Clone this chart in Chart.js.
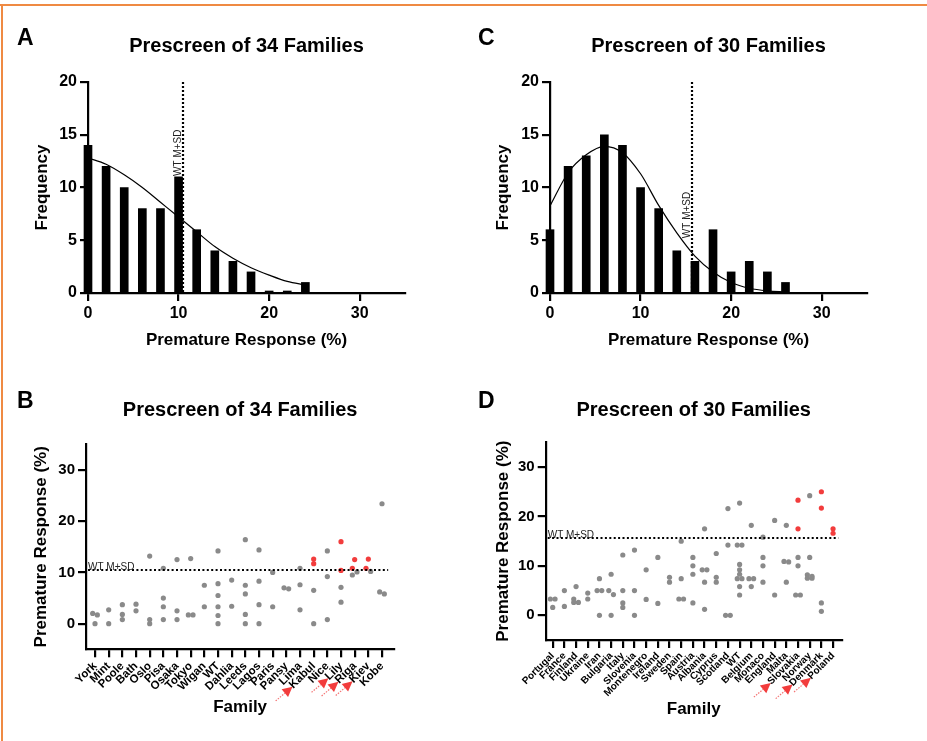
<!DOCTYPE html>
<html><head><meta charset="utf-8">
<script src="https://cdn.jsdelivr.net/npm/chart.js@4.4.1/dist/chart.umd.min.js"></script>
<style>
html,body{margin:0;padding:0;background:#fff;}
#wrap{position:relative;width:927px;height:741px;overflow:hidden;background:#fff;}
canvas{position:absolute;}
.frameTop{position:absolute;left:0;top:4px;width:927px;height:2px;background:#ef8a43;}
.frameLeft{position:absolute;left:1px;top:4px;width:2px;height:737px;background:#ef8a43;}
</style></head>
<body><div id="wrap">
<canvas id="cA" width="460" height="370" style="left:0;top:0"></canvas>
<canvas id="cC" width="467" height="370" style="left:460px;top:0"></canvas>
<canvas id="cB" width="460" height="371" style="left:0;top:370px"></canvas>
<canvas id="cD" width="467" height="371" style="left:460px;top:370px"></canvas>
<div class="frameTop"></div><div class="frameLeft"></div>
</div>
<script>
// ---------- DATA ----------
// Panel A: histogram, 34 families
const binsA = [0, 2, 4, 6, 8, 10, 12, 14, 16, 18, 20, 22, 24];
const countsA = [14, 12, 10, 8, 8, 11, 6, 4, 3, 2, 0, 0, 1];
const fitXA = [0, 2, 4, 6, 8, 10, 12, 14, 16, 18, 20, 22, 24];
const fitYA = [12.8, 12.2, 11.2, 10.0, 8.6, 7.2, 5.8, 4.4, 3.3, 2.4, 1.7, 1.1, 0.75];
const wtA = 10.5;

// Panel C: histogram, 30 families
const binsC = [0, 2, 4, 6, 8, 10, 12, 14, 16, 18, 20, 22, 24, 26];
const countsC = [6, 12, 13, 15, 14, 10, 8, 4, 3, 6, 2, 3, 2, 1];
const fitXC = [0, 2, 4, 6, 8, 10, 12, 14, 16, 18, 20, 22, 24, 26];
const fitYC = [8.25, 11.4, 13.1, 13.9, 13.3, 11.3, 8.3, 5.7, 3.5, 2.0, 1.0, 0.45, 0.2, 0.1];
const wtC = 15.7;

const histXTicks = [0, 10, 20, 30];
const histYTicks = [0, 5, 10, 15, 20];

// Panel B: 34 families scatter
const familiesB = ['York','Mint','Poole','Bath','Oslo','Pisa','Osaka','Tokyo','Wigan','WT','Dahlia','Leeds','Lagos','Paris','Pansy','Lima','Kabul','Nice','Lily','Riga','Kiev','Kobe'];
const greyB = [
  [2.0,1.7,0],[2.7,0],[3.7,1.8,0.8],[3.8,2.5],[13.2,0.8,0],[10.8,5.0,3.3,0.8],[12.5,2.5,0.8],[12.7,1.7,1.7],
  [7.5,3.3],[14.2,7.8,5.5,3.3,1.6,0],[8.5,3.4],[16.4,7.5,5.8,1.8,0],[14.4,8.3,3.7,0],[10.0,3.3],[7.0,6.8],
  [10.8,7.6,2.7],[6.5,0],[14.2,9.2,0.8],[7.1,4.2],[10.1,9.5],[10.2],[23.4,6.2,5.8]
];
const redB = [[],[],[],[],[],[],[],[],[],[],[],[],[],[],[],[],[12.6,11.7],[],[16.0,10.4],[12.5,10.8],[12.6,10.8],[]];
const wtB = 10.5;
const markedB = ['Kabul','Lily','Riga','Kiev'];

// Panel D: 30 families scatter
const familiesD = ['Portugal','France','Finland','Ukraine','Iran','Bulgaria','Italy','Slovenia','Montenegro','Ireland','Sweden','Spain','Austria','Albania','Cyprus','Scotland','WT','Belgium','Monaco','England','Malta','Slovakia','Norway','Denmark','Poland'];
const greyD = [
  [3.3,3.3,1.6],[5.0,1.8],[5.8,3.3,2.6,2.6],[4.5,3.3],[7.4,5.0,5.0,0],[8.3,5.0,4.2,0],[12.2,5.0,2.5,1.6],
  [13.2,5.0,0],[9.2,3.2],[11.7,2.4],[7.7,6.7],[15.0,7.4,3.3,3.3],[11.7,10.0,8.3,2.5],[17.5,9.2,9.2,6.7,1.2],
  [12.5,7.7,6.7],[21.6,14.2,0,0],[22.7,14.2,14.2,10.3,9.2,8.3,7.4,7.4,5.8,4.1],[18.2,7.4,7.4,5.8],
  [15.8,11.7,10.0,6.7],[19.2,4.1],[18.2,10.9,10.8,6.7],[11.7,10.0,4.1,4.1],[24.2,11.7,8.2,7.9,7.5,7.5],[2.5,0.8],[]
];
const redD = [[],[],[],[],[],[],[],[],[],[],[],[],[],[],[],[],[],[],[],[],[],[23.3,17.5],[],[25.0,21.7],[17.5,16.6]];
const wtD = 15.7;
const markedD = ['Slovakia','Denmark','Poland'];

const scatterYTicks = [0, 10, 20, 30];

// ---------- STYLE / HELPERS ----------
const FONT = "'Liberation Sans', Arial, Helvetica, sans-serif";
Chart.defaults.font.family = FONT;
Chart.defaults.color = '#000';
const GREY = '#8a8a8a', RED = '#f23c3c';

function letterPlugin(letter, x, y) {
  return { id: 'letter', afterDraw(chart) {
    const c = chart.ctx; c.save();
    c.font = 'bold 23px ' + FONT; c.fillStyle = '#000'; c.textAlign = 'left'; c.textBaseline = 'alphabetic';
    c.fillText(letter, x, y); c.restore();
  }};
}

function vLinePlugin(value, labelAt) {
  return { id: 'vline', afterDatasetsDraw(chart) {
    const {ctx, chartArea, scales: {x, y}} = chart;
    const px = Math.round(x.getPixelForValue(value));
    ctx.save();
    ctx.strokeStyle = '#000'; ctx.lineWidth = 2.2; ctx.setLineDash([2, 2]);
    ctx.beginPath(); ctx.moveTo(px, chartArea.top); ctx.lineTo(px, chartArea.bottom); ctx.stroke();
    ctx.setLineDash([]);
    ctx.font = '10px ' + FONT; ctx.fillStyle = '#222'; ctx.textAlign = 'left'; ctx.textBaseline = 'alphabetic';
    ctx.translate(px - 2, y.getPixelForValue(labelAt)); ctx.rotate(-Math.PI / 2);
    ctx.fillText('WT M+SD', 0, 0);
    ctx.restore();
  }};
}

function hLinePlugin(value, lastIndex) {
  return { id: 'hline', afterDatasetsDraw(chart) {
    const {ctx, chartArea, scales: {x, y}} = chart;
    const py = Math.round(y.getPixelForValue(value));
    ctx.save();
    ctx.strokeStyle = '#000'; ctx.lineWidth = 2.2; ctx.setLineDash([2, 2.4]);
    ctx.beginPath(); ctx.moveTo(chartArea.left + 2, py); ctx.lineTo(x.getPixelForValue(lastIndex + 0.45), py); ctx.stroke();
    ctx.setLineDash([]);
    ctx.font = '10px ' + FONT; ctx.fillStyle = '#222'; ctx.textAlign = 'left'; ctx.textBaseline = 'alphabetic';
    ctx.fillText('WT M+SD', chartArea.left + 2, py);
    ctx.restore();
  }};
}

function arrowPlugin(families, marked, fontSize) {
  return { id: 'arrows', afterDraw(chart) {
    const {ctx} = chart; const xs = chart.scales.x;
    const lh = fontSize * 1.2, rot = -Math.PI / 4, c = Math.cos(rot), s = Math.sin(rot);
    ctx.save(); ctx.font = 'bold ' + fontSize + 'px ' + FONT;
    marked.forEach(name => {
      const i = families.indexOf(name);
      const w = ctx.measureText(name).width;
      const xa = xs.getPixelForValue(i) + lh / 2 * s;
      const ya = xs.top + 8 + 2;
      const u = -w + 1, v = lh / 2 + 1;
      const tipX = xa + u * c - v * s, tipY = ya + u * s + v * c;
      const ang = -40 * Math.PI / 180;
      const dx = Math.cos(ang), dy = Math.sin(ang);
      const L = 22, head = 10, hw = 5;
      const tailX = tipX - L * dx, tailY = tipY - L * dy;
      const bX = tipX - head * dx, bY = tipY - head * dy;
      ctx.strokeStyle = 'rgba(240,70,70,0.75)'; ctx.lineWidth = 1.2; ctx.setLineDash([1.5, 1.3]);
      ctx.beginPath(); ctx.moveTo(tailX, tailY); ctx.lineTo(bX, bY); ctx.stroke();
      ctx.setLineDash([]);
      ctx.fillStyle = RED;
      ctx.beginPath(); ctx.moveTo(tipX, tipY); ctx.lineTo(bX - hw * dy, bY + hw * dx); ctx.lineTo(bX + hw * dy, bY - hw * dx); ctx.closePath(); ctx.fill();
    });
    ctx.restore();
  }};
}

// beeswarm-like horizontal spread of near-equal values within a family
function swarm(grey, red, thr, off) {
  const g = [], r = [];
  grey.forEach((vals, i) => {
    const pts = vals.map(v => ({v, red: false})).concat(red[i].map(v => ({v, red: true})));
    pts.sort((a, b) => b.v - a.v);
    let chain = [];
    const flush = () => {
      chain.forEach((p, k) => {
        const dx = chain.length === 1 ? 0 : (k % 2 === 0 ? -off : off);
        (p.red ? r : g).push({x: i + dx, y: p.v});
      });
      chain = [];
    };
    pts.forEach(p => {
      if (chain.length && chain[chain.length - 1].v - p.v >= thr) flush();
      chain.push(p);
    });
    flush();
  });
  return {g, r};
}

function axisBase(tickSize, tickPad, title, titlePad) {
  return {
    ticks: {font: {size: tickSize, weight: 'bold'}, color: '#000', padding: tickPad, autoSkip: false},
    grid: {drawOnChartArea: false, drawTicks: true, tickLength: 8, color: '#000', lineWidth: 2.2, offset: false},
    border: {display: true, color: '#000', width: 2.2},
    title: {display: true, text: title, font: {size: 17, weight: 'bold'}, color: '#000', padding: titlePad}
  };
}

function histChart(id, cfg) {
  const el = document.getElementById(id);
  const W = el.width, H = el.height, A = cfg.area;
  const xAx = axisBase(16, 3, 'Premature Response (%)', {top: 0, bottom: cfg.xTitlePad});
  Object.assign(xAx, {type: 'linear', min: 0, max: 35, offset: false,
    afterBuildTicks: s => { s.ticks = histXTicks.map(v => ({value: v})); },
    afterFit: s => { s.height = H - A.bottom; }});
  xAx.ticks.maxRotation = 0; xAx.ticks.minRotation = 0;
  const yAx = axisBase(16, 3, 'Frequency', {top: cfg.yTitlePad, bottom: 0});
  Object.assign(yAx, {type: 'linear', min: 0, max: 20,
    afterBuildTicks: s => { s.ticks = histYTicks.map(v => ({value: v})); },
    afterFit: s => { s.width = A.left; }});
  return new Chart(el, {
    type: 'bar',
    data: {datasets: [
      {type: 'line', data: cfg.fitX.map((x, i) => ({x, y: cfg.fitY[i]})), borderColor: '#000', borderWidth: 1.2,
       pointRadius: 0, cubicInterpolationMode: 'monotone', fill: false, order: 0, clip: false},
      {type: 'bar', data: cfg.bins.map((b, i) => ({x: b, y: cfg.counts[i]})), backgroundColor: '#000', borderWidth: 0,
       barThickness: 8, minBarLength: 2, grouped: false, order: 1, clip: false}
    ]},
    options: {
      responsive: false, animation: false, events: [],
      layout: {padding: {left: 0, top: cfg.padTop, right: W - A.right, bottom: 0}},
      plugins: {legend: {display: false}, tooltip: {enabled: false},
        title: {display: true, text: cfg.title, fullSize: false, font: {size: 20, weight: 'bold'}, color: '#000',
          padding: {top: 0, bottom: A.top - cfg.padTop - 24}}},
      scales: {x: xAx, y: yAx}
    },
    plugins: [letterPlugin(cfg.letter, cfg.letterX, cfg.letterY), vLinePlugin(cfg.wt, cfg.wtLabelAt)]
  });
}

function scatterChart(id, cfg) {
  const el = document.getElementById(id);
  const W = el.width, H = el.height, A = cfg.area;
  const pts = swarm(cfg.grey, cfg.red, 0.8, cfg.jitter);
  const xAx = axisBase(cfg.catFont, 2, 'Family', {top: 0, bottom: cfg.xTitlePad});
  Object.assign(xAx, {type: 'linear', min: cfg.xMin, max: cfg.xMax, offset: false,
    afterBuildTicks: s => { s.ticks = cfg.families.map((_, i) => ({value: i})); },
    afterFit: s => { s.height = H - A.bottom; }});
  xAx.ticks.minRotation = 45; xAx.ticks.maxRotation = 45;
  xAx.ticks.callback = v => cfg.families[v] ?? '';
  const yAx = axisBase(15, 3, 'Premature Response (%)', {top: cfg.yTitlePad, bottom: 0});
  Object.assign(yAx, {type: 'linear', min: -5, max: 35,
    afterBuildTicks: s => { s.ticks = scatterYTicks.map(v => ({value: v})); },
    afterFit: s => { s.width = A.left; }});
  return new Chart(el, {
    type: 'scatter',
    data: {datasets: [
      {data: pts.g, backgroundColor: GREY, borderWidth: 0, pointRadius: 2.6, clip: false},
      {data: pts.r, backgroundColor: RED, borderWidth: 0, pointRadius: 2.6, clip: false}
    ]},
    options: {
      responsive: false, animation: false, events: [],
      layout: {padding: {left: 0, top: cfg.padTop, right: W - A.right, bottom: 0}},
      plugins: {legend: {display: false}, tooltip: {enabled: false},
        title: {display: true, text: cfg.title, fullSize: false, font: {size: 20, weight: 'bold'}, color: '#000',
          padding: {top: 0, bottom: A.top - cfg.padTop - 24}}},
      scales: {x: xAx, y: yAx}
    },
    plugins: [letterPlugin(cfg.letter, cfg.letterX, cfg.letterY), hLinePlugin(cfg.wt, cfg.families.length - 1),
              arrowPlugin(cfg.families, cfg.marked, cfg.catFont)]
  });
}

histChart('cA', {title: 'Prescreen of 34 Families', letter: 'A', letterX: 17, letterY: 45,
  bins: binsA, counts: countsA, fitX: fitXA, fitY: fitYA, wt: wtA, wtLabelAt: 11.1,
  area: {left: 88, top: 82, right: 405, bottom: 293}, padTop: 34, xTitlePad: 19, yTitlePad: 32});
histChart('cC', {title: 'Prescreen of 30 Families', letter: 'C', letterX: 18, letterY: 45,
  bins: binsC, counts: countsC, fitX: fitXC, fitY: fitYC, wt: wtC, wtLabelAt: 5.2,
  area: {left: 90, top: 82, right: 407, bottom: 293}, padTop: 34, xTitlePad: 19, yTitlePad: 33.5});
scatterChart('cB', {title: 'Prescreen of 34 Families', letter: 'B', letterX: 17, letterY: 38,
  families: familiesB, grey: greyB, red: redB, wt: wtB, marked: markedB, catFont: 11.5, jitter: 0.17,
  xMin: -0.66, xMax: 21.9, area: {left: 86, top: 74.3, right: 394.3, bottom: 279.3},
  padTop: 28, xTitlePad: 23.8, yTitlePad: 31.5});
scatterChart('cD', {title: 'Prescreen of 30 Families', letter: 'D', letterX: 18, letterY: 38,
  families: familiesD, grey: greyD, red: redD, wt: wtD, marked: markedD, catFont: 10, jitter: 0.2,
  xMin: -0.6, xMax: 24.74, area: {left: 85.7, top: 72.3, right: 381.7, bottom: 270},
  padTop: 28, xTitlePad: 21.8, yTitlePad: 32.8});
</script>
</body></html>
